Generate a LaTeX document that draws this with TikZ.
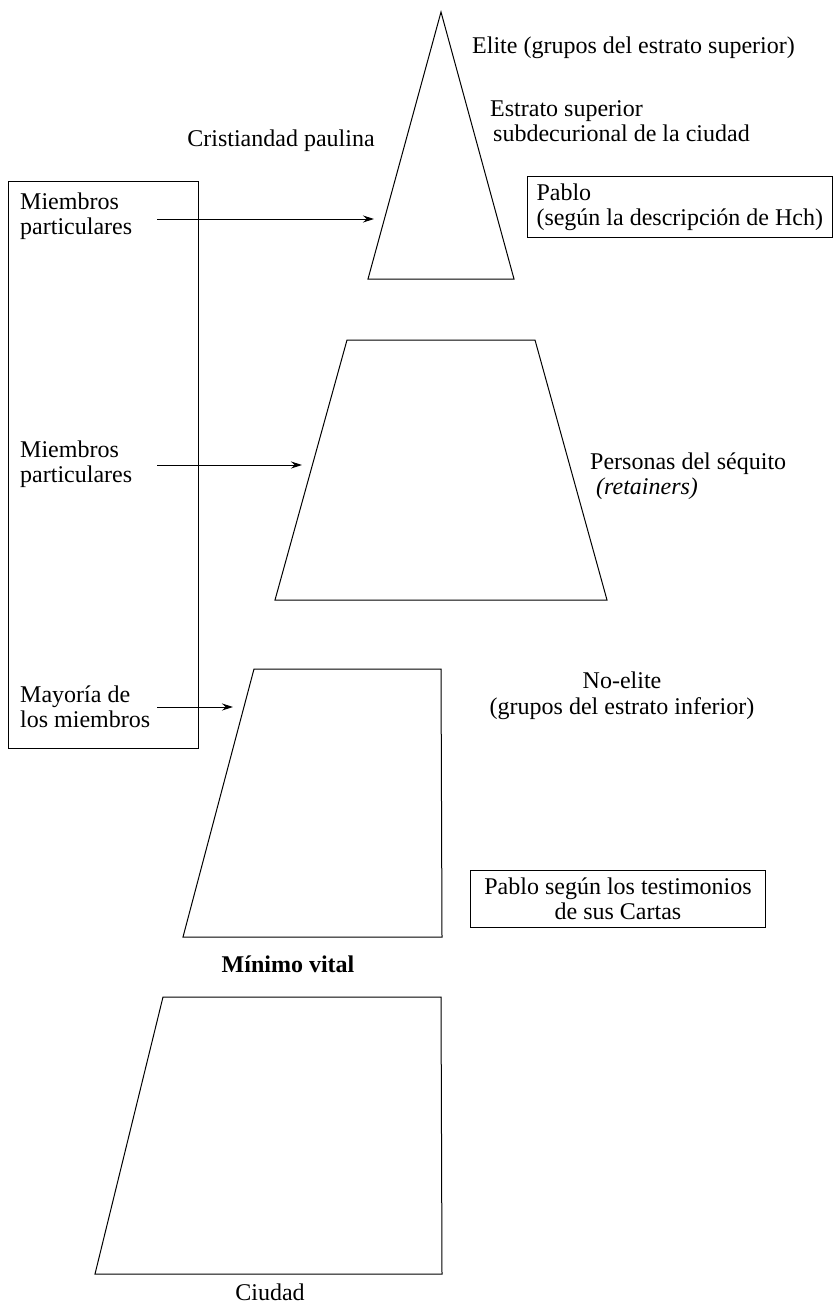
\documentclass[tikz,border=0pt]{standalone}
\usepackage{fontspec}
\setmainfont{Liberation Serif}
\usetikzlibrary{arrows.meta}
\begin{document}
\begin{tikzpicture}[x=1pt,y=-1pt,
  stratum/.style={draw,line width=1pt,line join=miter},
  lbl/.style={font=\fontsize{24}{25.5}\selectfont,inner sep=0pt},
  framed/.style={draw,line width=1pt,font=\fontsize{24}{25.5}\selectfont,inner xsep=9pt,inner ysep=7pt},
  pointer/.style={line width=1pt,-{Stealth[length=11pt,width=7pt]}}]
\useasboundingbox (0,0) rectangle (839,1308);

% social strata of the city
\draw[stratum] (441,12) -- (514,279) -- (368,279) -- cycle;
\draw[stratum] (347,340) -- (535,340) -- (607,600) -- (275,600) -- cycle;
\draw[stratum] (254,669) -- (441,669) -- (442,937) -- (183,937) -- cycle;
\draw[stratum] (163,997) -- (441,997) -- (442,1274) -- (95,1274) -- cycle;

% Pauline Christianity column
\draw[stratum] (8,182) rectangle (198,748);
\node[lbl,anchor=west,align=left] (m1) at (20,216) {Miembros\\particulares};
\node[lbl,anchor=west,align=left] (m2) at (20,464) {Miembros\\particulares};
\node[lbl,anchor=west,align=left] (m3) at (20,707) {Mayoría de\\los miembros};

\coordinate (s1) at (157,219); \coordinate (e1) at (374,219);
\coordinate (s2) at (157,465); \coordinate (e2) at (302,465);
\coordinate (s3) at (157,707); \coordinate (e3) at (233,707);
\draw[pointer] (s1) -- (e1);
\draw[pointer] (s2) -- (e2);
\draw[pointer] (s3) -- (e3);

% labels
\node[lbl,anchor=west] (elite) at (472,48) {Elite (grupos del estrato superior)};
\node[lbl,anchor=west,align=left] (sup) at (490,121) {Estrato superior\\\hspace*{3pt}subdecurional de la ciudad};
\node[lbl] (crist) at (281,141) {Cristiandad paulina};
\node[framed,anchor=north west,align=left] (hch) at (527,176) {Pablo\\(según la descripción de Hch)};
\node[lbl,anchor=west,align=left] (ret) at (590,476) {Personas del séquito\\\hspace*{6pt}\textit{(retainers)}};
\node[lbl,align=center] (noel) at (622,696) {No-elite\\(grupos del estrato inferior)};
\node[framed,align=center,inner xsep=14pt] (cartas) at (618,899) {Pablo según los testimonios\\de sus Cartas};
\node[lbl,font=\fontsize{24}{25.5}\selectfont\bfseries] (min) at (288,964) {Mínimo vital};
\node[lbl] (ciu) at (270,1292) {Ciudad};
\end{tikzpicture}
\end{document}
